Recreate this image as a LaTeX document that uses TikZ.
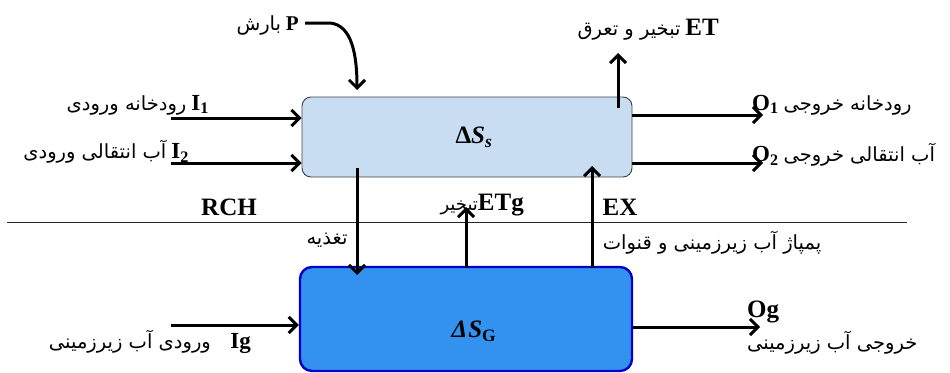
\documentclass[tikz,border=0pt]{standalone}
\usepackage{fontspec}
\setmainfont{Liberation Serif}
\newfontfamily\arabicfont[Script=Arabic]{DejaVu Sans}
\TeXXeTstate=1
\usetikzlibrary{arrows.meta}
\newcommand{\fa}[1]{{\arabicfont\beginR #1\endR}}
\definecolor{topfill}{HTML}{C9DDF2}
\definecolor{botfill}{HTML}{3391F0}
\definecolor{botdraw}{HTML}{0000C8}
\tikzset{
  arr/.style={line width=3pt,-{Straight Barb[length=8pt,width=16pt,line width=3pt]}},
  lat/.style={font=\fontsize{25}{25}\selectfont\bfseries, inner sep=0pt},
  far/.style={font=\fontsize{19.5}{19.5}\selectfont, inner sep=0pt},
  mix/.style={font=\fontsize{19.5}{19.5}\selectfont, inner sep=0pt},
  topbox/.style={draw=black!75, line width=0.9pt, fill=topfill, rounded corners=9pt,
    minimum width=330pt, minimum height=80pt, inner sep=0pt},
  botbox/.style={draw=botdraw, line width=2.4pt, fill=botfill, rounded corners=12pt,
    minimum width=332pt, minimum height=104pt, inner sep=0pt},
}
\newcommand{\lt}[1]{{\fontsize{23}{23}\selectfont\bfseries #1}}
\newcommand{\ltp}[1]{{\fontsize{21}{21}\selectfont\bfseries #1}}
\begin{document}
\begin{tikzpicture}[x=1pt,y=-1pt]
\useasboundingbox (0,0) rectangle (950,372);
% boxes
\node[topbox] (top) at (467,137) {};
\node (topl) at (474,137) {\fontsize{25}{25}\selectfont\bfseries Δ\textit{S}\textsubscript{\textit{s}}};
\node[botbox] (bot) at (466,319) {};
\node (botl) at (474,331) {\fontsize{25}{25}\selectfont\bfseries\itshape Δ\kern1pt S\textsubscript{\upshape G}};
% divider
\coordinate (l1) at (7,222);
\coordinate (l2) at (907,222);
\draw[line width=0.9pt, black!85] (l1) -- (l2);
% free ends
\coordinate (i1s) at (171,118);
\coordinate (i2s) at (171,163);
\coordinate (igs) at (171,325);
\coordinate (ps) at (305,23);
\coordinate (pe) at (357,90);
\coordinate (ets) at (618,108);
\coordinate (ete) at (618,53);
\coordinate (o1e) at (763,115);
\coordinate (o2e) at (763,163);
\coordinate (oge) at (760,327);
\coordinate (rchs) at (357,168);
\coordinate (rche) at (357,275);
\coordinate (etgs) at (466,268);
\coordinate (etge) at (466,207);
\coordinate (exs) at (592,268);
\coordinate (exe) at (592,166);
% arrows
\draw[arr] (i1s) -- (i1s -| top.west);
\draw[arr] (i2s) -- (i2s -| top.west);
\draw[arr] (igs) -- (igs -| bot.west);
\draw[arr] (ps) -- (330,23) .. controls (352,25) and (357,55) .. (pe);
\draw[arr] (ets) -- (ete);
\draw[arr] (o1e -| top.east) -- (o1e);
\draw[arr] (o2e -| top.east) -- (o2e);
\draw[arr] (oge -| bot.east) -- (oge);
\draw[arr] (rchs) -- (rche);
\draw[arr] (etgs) -- (etge);
\draw[arr] (exs) -- (exe);
% labels
\node[mix, anchor=east] (pl) at (299,25) {\fa{بارش} \ltp{P}};
\node[mix, anchor=east] (i1l) at (209,105) {\fa{رودخانه ورودی} \lt{I\textsubscript{1}}};
\node[mix, anchor=east] (i2l) at (189,152) {\fa{آب انتقالی ورودی} \lt{I\textsubscript{2}}};
\node[mix, anchor=east] (etl) at (719,30) {\fa{تبخیر و تعرق} {\fontsize{25}{25}\selectfont\bfseries ET}};
\node[mix, anchor=west] (o1l) at (752,105) {\lt{O\textsubscript{1}} \fa{رودخانه خروجی}};
\node[mix, anchor=west] (o2l) at (752,155) {\lt{O\textsubscript{2}} \fa{آب انتقالی خروجی}};
\node[lat] (rchl) at (229,207) {RCH};
\node[far] (tagh) at (327,240) {\fa{تغذیه}};
\node[mix, anchor=east] (etgl) at (524,205) {{\fontsize{18}{18}\selectfont\fa{تبخیر}}{\fontsize{25}{25}\selectfont\bfseries ETg}};
\node[lat] (exl) at (620,207) {EX};
\node[far] (pump) at (712,243) {\fa{پمپاژ آب زیرزمینی و قنوات}};
\node[mix, anchor=east] (igl) at (251,342) {\fa{ورودی آب زیرزمینی}\quad\lt{Ig}};
\node[lat, anchor=west] (ogl) at (747,312) {Og};
\node[far, anchor=west] (ogf) at (747,343) {\fa{خروجی آب زیرزمینی}};
\end{tikzpicture}
\end{document}
